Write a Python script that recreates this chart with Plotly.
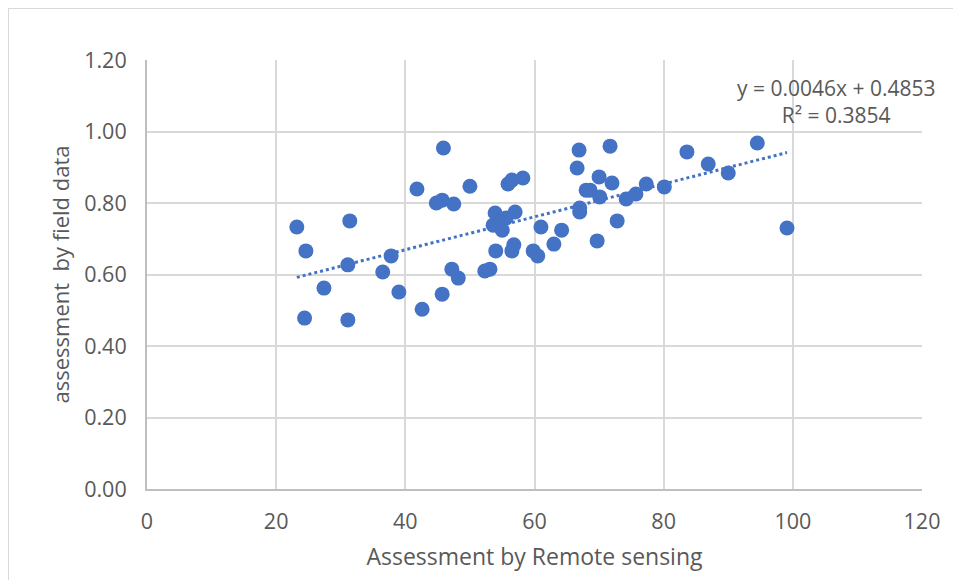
import plotly.graph_objects as go

# Data
remote_sensing = [23.2, 24.6, 24.4, 27.4, 31.4, 31.1, 31.1, 36.5, 37.8, 39.0,
                  42.6, 41.8, 45.9, 44.8, 45.7, 47.5, 50.0, 47.2, 48.2, 45.7,
                  52.3, 53.1, 53.6, 53.9, 54.7, 55.0, 54.0, 55.6, 55.9, 56.5,
                  58.2, 57.0, 56.8, 56.5, 59.8, 60.5, 61.0, 63.0, 64.2, 66.6,
                  66.9, 67.0, 67.0, 68.0, 68.6, 69.7, 70.0, 70.1, 71.7, 72.0,
                  72.8, 74.2, 75.7, 77.3, 80.1, 83.6, 86.9, 90.0, 94.5, 99.1]
field_data = [0.733, 0.666, 0.478, 0.562, 0.750, 0.627, 0.473, 0.607, 0.652, 0.551,
              0.503, 0.839, 0.954, 0.800, 0.808, 0.797, 0.847, 0.615, 0.590, 0.545,
              0.610, 0.615, 0.738, 0.772, 0.747, 0.724, 0.666, 0.758, 0.853, 0.864,
              0.870, 0.775, 0.683, 0.666, 0.666, 0.652, 0.733, 0.685, 0.724, 0.898,
              0.948, 0.775, 0.786, 0.836, 0.836, 0.694, 0.873, 0.817, 0.959, 0.856,
              0.750, 0.811, 0.825, 0.853, 0.845, 0.943, 0.909, 0.884, 0.968, 0.730]

slope = 0.0046
intercept = 0.4853
r_squared = 0.3854

x_ticks = [0, 20, 40, 60, 80, 100, 120]
y_ticks = [0.0, 0.2, 0.4, 0.6, 0.8, 1.0, 1.2]

blue = "#4472C4"
grid = "#D9D9D9"
text_col = "#595959"
font_family = "Open Sans, Noto Sans, sans-serif"

trend_x = [min(remote_sensing), max(remote_sensing)]
trend_y = [slope * v + intercept for v in trend_x]

# figure geometry (page has an 8px body margin)
W, H = 953, 572
L, T, PW, PH = 139, 52, 775, 429

fig = go.Figure()
fig.add_trace(go.Scatter(
    x=trend_x, y=trend_y, mode="lines",
    line=dict(color=blue, width=3, dash="dot"),
    hoverinfo="skip", showlegend=False))
fig.add_trace(go.Scatter(
    x=remote_sensing, y=field_data, mode="markers",
    marker=dict(color=blue, size=15, line=dict(width=0)),
    showlegend=False))

fig.add_annotation(
    xref="paper", yref="paper", x=0.889, y=0.904,
    text=f"y = {slope:.4f}x + {intercept:.4f}<br>R² = {r_squared:.4f}",
    showarrow=False, align="center", xanchor="center", yanchor="middle",
    font=dict(family=font_family, size=21, color=text_col))

# outer chart frame (top and left edges)
fx = (0 - L) / PW
fy = (T + PH - 0) / PH
fig.add_shape(type="line", xref="paper", yref="paper",
              x0=fx, x1=(W - L) / PW, y0=fy, y1=fy,
              line=dict(color=grid, width=2))
fig.add_shape(type="line", xref="paper", yref="paper",
              x0=fx, x1=fx, y0=fy, y1=(T + PH - H - 10) / PH,
              line=dict(color=grid, width=2))

fig.update_layout(
    width=W, height=H,
    margin=dict(l=L, r=W - L - PW, t=T, b=H - T - PH),
    paper_bgcolor="white", plot_bgcolor="white",
    font=dict(family=font_family, color=text_col),
    xaxis=dict(
        range=[0, 120], tickvals=x_ticks, ticktext=[str(v) for v in x_ticks],
        showgrid=True, gridcolor=grid, gridwidth=2,
        showline=True, linecolor="#BFBFBF", linewidth=2,
        zeroline=False, ticks="", ticklabelstandoff=12,
        tickfont=dict(size=21.5, color=text_col),
        title=dict(text="Assessment by Remote sensing", standoff=15,
                   font=dict(size=23, color=text_col))),
    yaxis=dict(
        range=[0, 1.2], tickvals=y_ticks, ticktext=[f"{v:.2f}" for v in y_ticks],
        showgrid=True, gridcolor=grid, gridwidth=2,
        showline=True, linecolor="#BFBFBF", linewidth=2,
        zeroline=False, ticks="", ticklabelstandoff=14,
        tickfont=dict(size=21.5, color=text_col),
        title=dict(text="assessment  by field data", standoff=8,
                   font=dict(size=22, color=text_col))),
)

fig.write_html("out.html")
